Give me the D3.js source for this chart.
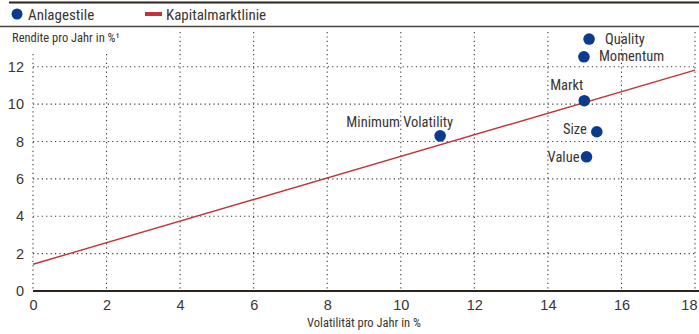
<!DOCTYPE html>
<html>
<head>
<meta charset="utf-8">
<script src="https://cdn.jsdelivr.net/npm/d3@7"></script>
<style>
  html, body { margin: 0; padding: 0; background: #fff; }
  svg { display: block; font-family: "Liberation Sans Narrow", "Roboto Condensed", "DejaVu Sans Condensed", sans-serif; }
</style>
</head>
<body>
<svg id="chart" width="699" height="334"></svg>
<script>
// Anlagestile: Volatilität (x) und Rendite (y), jeweils pro Jahr in %
const styles = ["Quality", "Momentum", "Markt", "Size", "Value", "Minimum Volatility"];
const volatility = [15.12, 14.98, 14.99, 15.33, 15.05, 11.07];
const returns = [13.48, 12.53, 10.18, 8.52, 7.18, 8.30];

// Kapitalmarktlinie: Endpunkte bei Volatilität 0 und 18
const cmlVolatility = [0, 18];
const cmlReturn = [1.43, 11.82];

const xTicks = [0, 2, 4, 6, 8, 10, 12, 14, 16, 18];
const yTicks = [0, 2, 4, 6, 8, 10, 12];

const legendLabels = ["Anlagestile", "Kapitalmarktlinie"];
const xTitle = "Volatilität pro Jahr in %";
const yTitle = "Rendite pro Jahr in %¹";

// label placement around each dot: [dx, dy, anchor]
const labelPlacement = {
  "Quality": [16, 0, "start"],
  "Momentum": [15, -1, "start"],
  "Markt": [-1, -16, "end"],
  "Size": [-10, -3, "end"],
  "Value": [-7, 0, "end"],
  "Minimum Volatility": [13, -14, "end"]
};

const textColor = "#3a3530";
const ruleColor = "#2b241d";
const dotColor = "#0c3b8e";
const lineColor = "#c0333a";

const svg = d3.select("#chart");

const x = d3.scaleLinear().domain([0, 18]).range([33, 695]);
const y = d3.scaleLinear().domain([0, 12]).range([291, 66.7]);
const plotTop = 32;

// header rules
svg.append("line").attr("x1", 9).attr("x2", 699).attr("y1", 2.5).attr("y2", 2.5)
  .attr("stroke", ruleColor).attr("stroke-width", 2);
svg.append("line").attr("x1", 0).attr("x2", 699).attr("y1", 26.5).attr("y2", 26.5)
  .attr("stroke", "#4a4540").attr("stroke-width", 1.3);

// legend
const legend = svg.append("g");
legend.append("circle").attr("cx", 17).attr("cy", 14).attr("r", 5.5).attr("fill", dotColor);
legend.append("text").attr("x", 28).attr("y", 19.5).attr("font-size", 15)
  .attr("fill", textColor).text(legendLabels[0]);
legend.append("line").attr("x1", 145).attr("x2", 162).attr("y1", 14).attr("y2", 14)
  .attr("stroke", lineColor).attr("stroke-width", 4);
legend.append("text").attr("x", 166).attr("y", 19.5).attr("font-size", 15)
  .attr("fill", textColor).text(legendLabels[1]);

// grid
const grid = svg.append("g");
grid.selectAll("line.v").data(xTicks).join("line")
  .attr("class", "v")
  .attr("x1", d => x(d)).attr("x2", d => x(d))
  .attr("y1", plotTop).attr("y2", y(0))
  .attr("stroke", "#3a3a3a").attr("stroke-width", 1.1)
  .attr("stroke-dasharray", "1.2,3.2");
grid.selectAll("line.h").data(yTicks.filter(d => d > 0)).join("line")
  .attr("class", "h")
  .attr("x1", x(0)).attr("x2", x(18))
  .attr("y1", d => y(d)).attr("y2", d => y(d))
  .attr("stroke", "#3a3a3a").attr("stroke-width", 1.1)
  .attr("stroke-dasharray", "1.2,3.2");

// y axis title sits on a white band above the grid
svg.append("rect").attr("x", 0).attr("y", 28).attr("width", 122).attr("height", 23).attr("fill", "#fff");
svg.append("text").attr("x", 12).attr("y", 41.5).attr("font-size", 12.5)
  .attr("fill", textColor).text(yTitle);

// Kapitalmarktlinie
const cml = cmlVolatility.map((v, i) => [v, cmlReturn[i]]);
svg.append("path").datum(cml)
  .attr("d", d3.line().x(d => x(d[0])).y(d => y(d[1])))
  .attr("fill", "none").attr("stroke", lineColor).attr("stroke-width", 1.4);

// x axis
const xAxis = svg.append("g").attr("transform", `translate(0,${y(0)})`)
  .call(d3.axisBottom(x).tickValues(xTicks).tickSize(0).tickPadding(9).tickFormat(d3.format("d")));
xAxis.select(".domain").remove();
xAxis.selectAll("text").attr("font-size", 14.5).attr("fill", textColor)
  .attr("font-family", "Liberation Sans Narrow, sans-serif");
// the last label is kept inside the right edge
xAxis.selectAll(".tick").filter(d => d === 18).select("text")
  .attr("text-anchor", "end").attr("x", 2);
svg.append("line").attr("x1", x(0)).attr("x2", 699).attr("y1", y(0)).attr("y2", y(0))
  .attr("stroke", ruleColor).attr("stroke-width", 2.2);

// y axis
const yAxis = svg.append("g").attr("transform", `translate(${x(0)},0)`)
  .call(d3.axisLeft(y).tickValues(yTicks).tickSize(0).tickPadding(9).tickFormat(d3.format("d")));
yAxis.select(".domain").remove();
yAxis.selectAll("text").attr("font-size", 14.5).attr("fill", textColor)
  .attr("font-family", "Liberation Sans Narrow, sans-serif");

svg.append("text").attr("x", 364).attr("y", 327).attr("text-anchor", "middle")
  .attr("font-size", 12.5).attr("fill", textColor).text(xTitle);

// points
const points = styles.map((s, i) => ({ name: s, vol: volatility[i], ret: returns[i] }));
svg.append("g").selectAll("circle").data(points).join("circle")
  .attr("cx", d => x(d.vol)).attr("cy", d => y(d.ret)).attr("r", 5.8)
  .attr("fill", dotColor);

svg.append("g").selectAll("text").data(points).join("text")
  .attr("x", d => x(d.vol) + labelPlacement[d.name][0])
  .attr("y", d => y(d.ret) + labelPlacement[d.name][1])
  .attr("dy", "0.35em")
  .attr("text-anchor", d => labelPlacement[d.name][2])
  .attr("font-size", 14.5).attr("fill", textColor)
  .text(d => d.name);
</script>
</body>
</html>
